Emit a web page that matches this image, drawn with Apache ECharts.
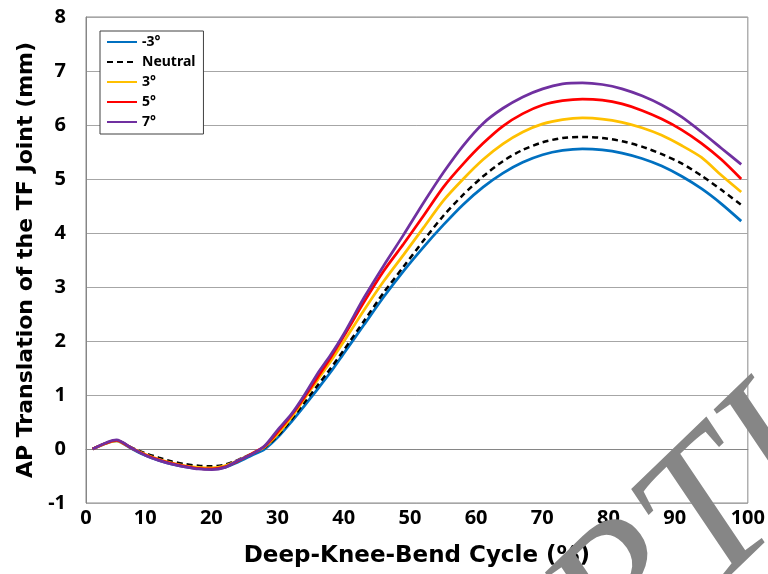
<!DOCTYPE html>
<html>
<head>
<meta charset="utf-8">
<script src="https://cdn.jsdelivr.net/npm/echarts@6/dist/echarts.min.js"></script>
<style>
html,body{margin:0;padding:0;background:#fff;}
#chart{width:768px;height:574px;}
</style>
</head>
<body>
<div id="chart"></div>
<script>
var xValues = [1, 4.6, 7, 9, 11, 13, 15, 17, 19, 21, 23, 25, 27, 29, 31, 33, 35, 37, 39, 42, 45, 48, 51, 54, 57, 60, 63, 66, 69, 72, 75, 78, 81, 84, 87, 90, 93, 96, 99];

var seriesNames = ['-3°', 'Neutral', '3°', '5°', '7°'];

var minus3 = [0, 0.15, 0.0, -0.12, -0.21, -0.28, -0.33, -0.36, -0.37, -0.34, -0.24, -0.12, 0.0, 0.22, 0.5, 0.8, 1.11, 1.43, 1.78, 2.3, 2.82, 3.3, 3.74, 4.15, 4.53, 4.85, 5.11, 5.31, 5.45, 5.53, 5.56, 5.54, 5.48, 5.38, 5.24, 5.05, 4.82, 4.54, 4.22];

var neutral = [0, 0.16, 0.02, -0.08, -0.16, -0.23, -0.28, -0.31, -0.32, -0.29, -0.2, -0.09, 0.03, 0.25, 0.54, 0.86, 1.18, 1.5, 1.84, 2.37, 2.9, 3.38, 3.86, 4.32, 4.71, 5.05, 5.33, 5.54, 5.68, 5.76, 5.78, 5.76, 5.7, 5.6, 5.46, 5.29, 5.06, 4.8, 4.52];

var plus3 = [0, 0.15, 0.01, -0.1, -0.19, -0.26, -0.31, -0.34, -0.35, -0.31, -0.21, -0.09, 0.04, 0.28, 0.58, 0.93, 1.28, 1.63, 2.0, 2.57, 3.11, 3.6, 4.1, 4.6, 5.0, 5.36, 5.65, 5.87, 6.02, 6.1, 6.13, 6.11, 6.05, 5.95, 5.81, 5.62, 5.4, 5.07, 4.76];

var plus5 = [0, 0.16, 0.01, -0.11, -0.2, -0.27, -0.32, -0.36, -0.37, -0.33, -0.22, -0.09, 0.05, 0.32, 0.62, 0.96, 1.33, 1.7, 2.1, 2.72, 3.3, 3.8, 4.32, 4.85, 5.28, 5.66, 5.98, 6.21, 6.37, 6.45, 6.48, 6.46, 6.39, 6.27, 6.11, 5.91, 5.66, 5.36, 5.0];

var plus7 = [0, 0.17, 0.01, -0.12, -0.21, -0.28, -0.33, -0.37, -0.38, -0.34, -0.21, -0.1, 0.06, 0.36, 0.64, 1.0, 1.4, 1.75, 2.14, 2.8, 3.4, 3.97, 4.56, 5.12, 5.62, 6.03, 6.31, 6.52, 6.67, 6.76, 6.78, 6.75, 6.67, 6.54, 6.37, 6.15, 5.87, 5.57, 5.27];

var xTicks = [0, 10, 20, 30, 40, 50, 60, 70, 80, 90, 100];
var yTicks = [-1, 0, 1, 2, 3, 4, 5, 6, 7, 8];

var colors = ['#0070C0', '#000000', '#FFC000', '#FF0000', '#7030A0'];
var allValues = [minus3, neutral, plus3, plus5, plus7];

function pairs(vals) {
  return xValues.map(function (x, i) { return [x, vals[i]]; });
}

var series = seriesNames.map(function (name, i) {
  return {
    name: name,
    type: 'line',
    symbol: 'none',
    smooth: 0.25,
    data: pairs(allValues[i]),
    lineStyle: {
      color: colors[i],
      width: i === 1 ? 2.5 : 2.75,
      type: i === 1 ? [6, 4] : 'solid'
    },
    itemStyle: { color: colors[i] },
    z: 2 + i
  };
});

var chart = echarts.init(document.getElementById('chart'), null, { renderer: 'canvas' });
var labelFont = '"Noto Sans", "DejaVu Sans", sans-serif';
var titleFont = '"DejaVu Sans", "Noto Sans", sans-serif';

chart.setOption({
  animation: false,
  backgroundColor: '#ffffff',
  grid: {
    left: 86, right: 16, top: 17, bottom: 71,
    show: true, borderColor: '#8a8a8a', borderWidth: 1, backgroundColor: 'transparent'
  },
  legend: {
    orient: 'vertical',
    left: 100, top: 31,
    data: seriesNames,
    itemWidth: 30,
    itemHeight: 14,
    itemGap: 6,
    padding: [4, 8, 5, 6],
    backgroundColor: '#ffffff',
    borderColor: '#404040',
    borderWidth: 1,
    borderRadius: 0,
    itemStyle: { opacity: 0 },
    textStyle: { fontFamily: labelFont, fontWeight: 'bold', fontSize: 14, color: '#000', lineHeight: 14, padding: [0, 0, 0, 0] }
  },
  xAxis: {
    type: 'value',
    min: xTicks[0], max: xTicks[xTicks.length - 1], interval: 10,
    name: 'Deep-Knee-Bend Cycle (%)',
    nameLocation: 'middle',
    nameGap: 42,
    nameTextStyle: { fontFamily: titleFont, fontWeight: 'bold', fontSize: 23, color: '#000' },
    axisLine: { show: true, lineStyle: { color: '#868686', width: 1 } },
    axisTick: { show: false },
    splitLine: { show: false },
    axisLabel: {
      margin: 5,
      fontFamily: labelFont, fontWeight: 'bold', fontSize: 20, color: '#000',
      formatter: function (v) {
        if (v === 0 || v === 100) return '{e|' + v + '}';
        return '{n|' + v + '}';
      },
      rich: {
        n: { fontFamily: labelFont, fontWeight: 'bold', fontSize: 20, color: '#000', padding: [0, 14, 0, 0] },
        e: { fontFamily: labelFont, fontWeight: 'bold', fontSize: 20, color: '#000', padding: [0, 0, 0, 0] }
      }
    }
  },
  yAxis: {
    type: 'value',
    min: yTicks[0], max: yTicks[yTicks.length - 1], interval: 1,
    name: 'AP Translation of the TF Joint (mm)',
    nameLocation: 'middle',
    nameGap: 48,
    nameTextStyle: { fontFamily: titleFont, fontWeight: 'bold', fontSize: 22, color: '#000' },
    axisLine: { show: true, lineStyle: { color: '#868686', width: 1 } },
    axisTick: { show: false },
    splitLine: { show: true, lineStyle: { color: '#a6a6a6', width: 1 } },
    axisLabel: { margin: 20, fontFamily: labelFont, fontWeight: 'bold', fontSize: 20, color: '#000' }
  },
  graphic: [{
    type: 'text',
    x: 566, y: 800,
    rotation: 44 * Math.PI / 180,
    z: 100,
    silent: true,
    style: {
      text: 'ARTICLE IN PRESS',
      font: 'italic 200px "Liberation Serif", "DejaVu Serif", serif',
      fill: '#868686',
      align: 'left',
      verticalAlign: 'bottom'
    }
  }],
  series: series
});
</script>
</body>
</html>
